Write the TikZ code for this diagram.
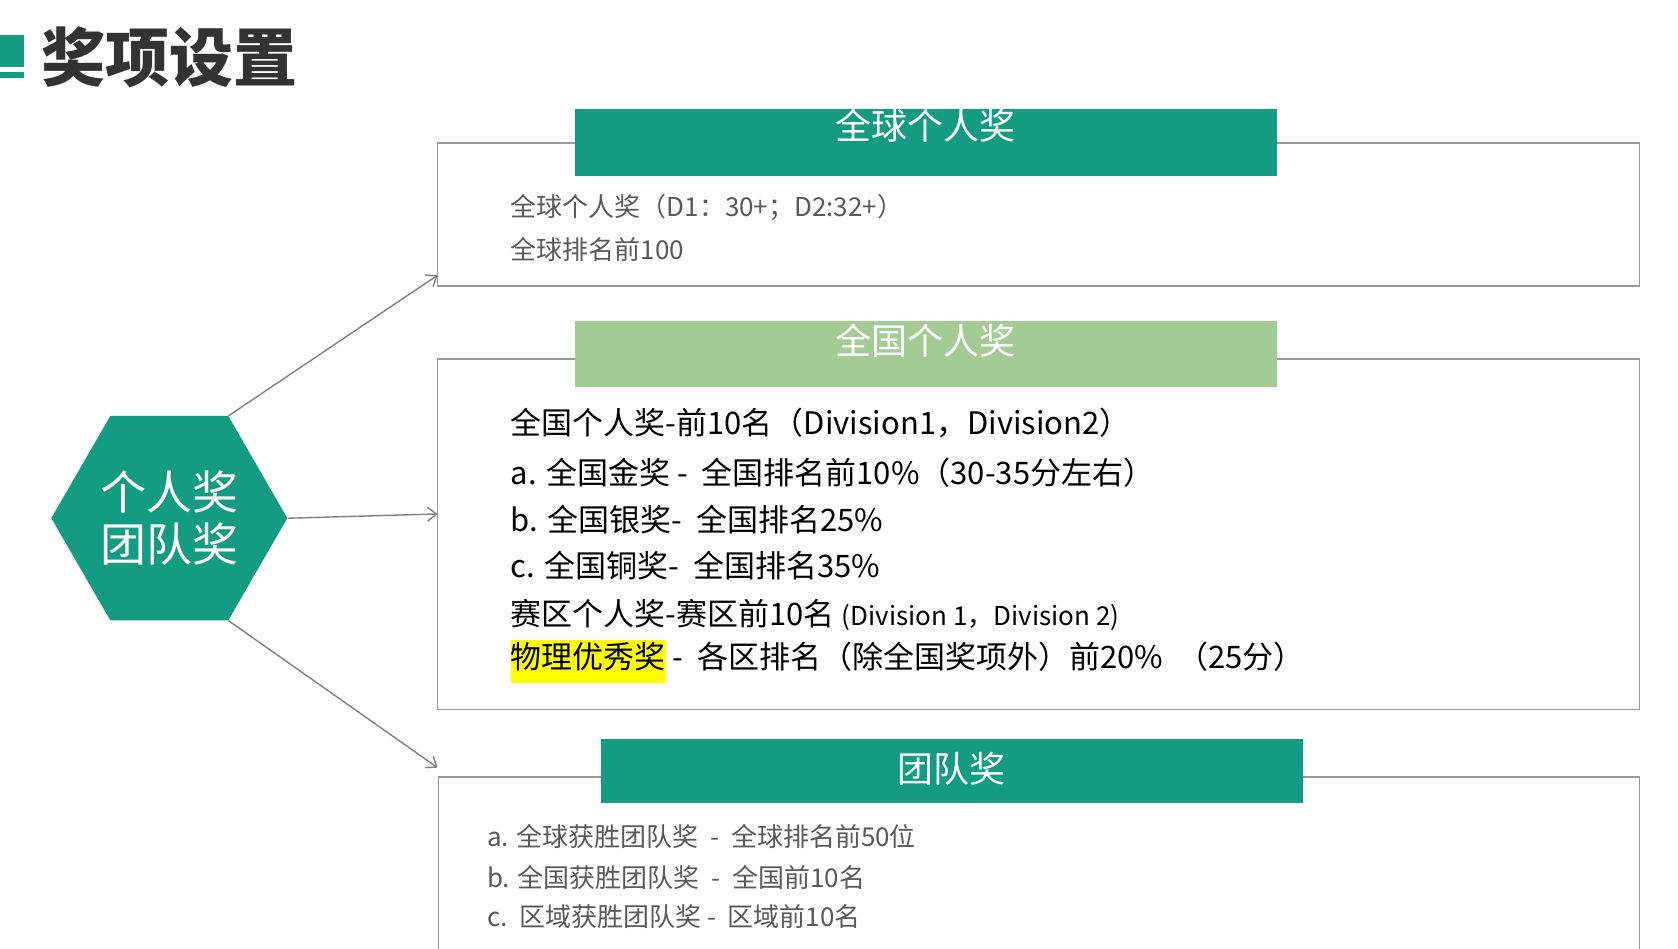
\documentclass[tikz,border=0pt]{standalone}
\usepackage{fontspec}
\setmainfont{Noto Sans CJK SC}
\usetikzlibrary{shapes.geometric,arrows.meta}
\definecolor{teal1}{HTML}{139C82}
\definecolor{lgreen}{HTML}{A3CC94}
\definecolor{gtext}{HTML}{595959}
\definecolor{hl}{HTML}{FFFF00}
\tikzset{
 boxline/.style={draw=gray!80,line width=1.6pt},
 hdr/.style={fill=#1,draw=none},
 hdrtext/.style={text=white,font=\fontsize{36}{40}\selectfont},
 gline/.style={anchor=west,text=gtext,font=\fontsize{26}{30}\selectfont,inner sep=0pt},
 bline/.style={anchor=west,text=black,font=\fontsize{31}{36}\selectfont,inner sep=0pt},
 arr/.style={draw=gray,line width=1.4pt,-{Straight Barb[length=9pt,width=14pt]}}
}
\begin{document}
\begin{tikzpicture}[x=1pt,y=-1pt,scale=1.075]
\useasboundingbox (0,0) rectangle (1561,882);
% title
\fill[teal1] (0,33) rectangle (22,62);
\fill[teal1] (0,67) rectangle (22,73);
\node[anchor=west,inner sep=0pt,text=black!80,font=\fontsize{64}{70}\selectfont\bfseries] (title) at (38,53) {奖项设置};
% box 1
\draw[boxline] (407,133) rectangle (1525,266);
\fill[hdr=teal1] (535,101) rectangle (1188,164);
\node[hdrtext] (h1) at (861,117) {全球个人奖};
\node[gline] (l11) at (475,193) {全球个人奖（D1：30+；D2:32+）};
\node[gline] (l12) at (475,232) {全球排名前100};
% box 2
\draw[boxline] (407,334) rectangle (1525,660);
\fill[hdr=lgreen] (535,299) rectangle (1188,360);
\node[hdrtext] (h2) at (861,317) {全国个人奖};
\node[bline] (l21) at (475,393) {全国个人奖-前10名（Division1，Division2）};
\node[bline] (l22) at (475,440) {a. 全国金奖 -\ \ 全国排名前10\%（30-35分左右）};
\node[bline] (l23) at (475,483) {b. 全国银奖-\ \ 全国排名25\%};
\node[bline] (l24) at (475,526) {c. 全国铜奖-\ \ 全国排名35\%};
\node[bline] (l25) at (475,572) {赛区个人奖-赛区前10名 {\fontsize{26}{30}\selectfont(Division 1，Division 2)}};
\node[bline] (l26) at (475,615) {\colorbox{hl}{\kern-3pt\strut 物理优秀奖\kern-3pt} -\ \ 各区排名（除全国奖项外）前20\%\ \ （25分）};
% box 3
\draw[boxline] (408,886) -- (408,723) -- (1525,723) -- (1525,886);
\fill[hdr=teal1] (559,687) rectangle (1212,747);
\node[hdrtext] (h3) at (885,715) {团队奖};
\node[gline] (l31) at (453,778) {a. 全球获胜团队奖\ \ -\ \ 全球排名前50位};
\node[gline] (l32) at (453,816) {b. 全国获胜团队奖\ \ -\ \ 全国前10名};
\node[gline] (l33) at (453,853) {c.\ \ 区域获胜团队奖 -\ \ 区域前10名};
% hexagon
\node[regular polygon,regular polygon sides=6,minimum size=236pt,fill=teal1,inner sep=0pt] (hex) at (157.5,482) {};
\node[text=white,align=center,font=\fontsize{46}{52}\selectfont] (hext) at (hex.center) {个人奖\\团队奖};
\coordinate (e1) at (407,256);
\coordinate (e2) at (407,478);
\coordinate (e3) at (407,714);
\draw[arr] (hex.60) -- (e1);
\draw[arr] (hex.0) -- (e2);
\draw[arr] (hex.-60) -- (e3);
\end{tikzpicture}
\end{document}
